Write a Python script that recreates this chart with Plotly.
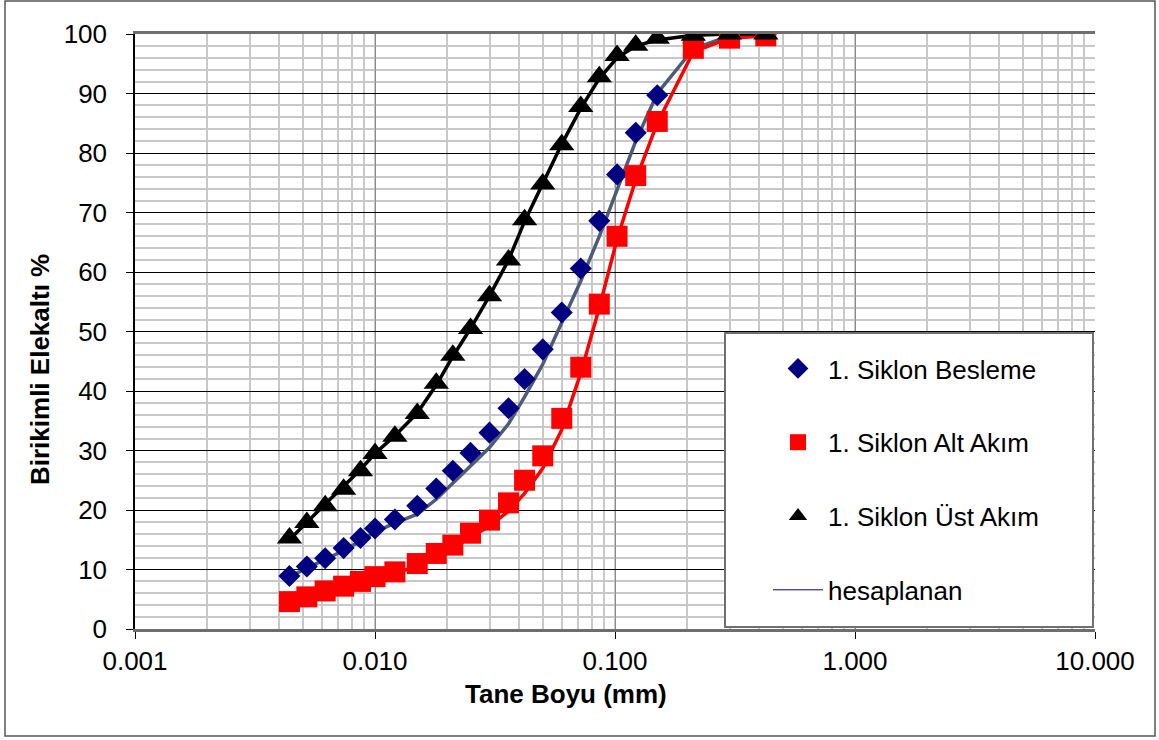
import plotly.graph_objects as go

# Particle size (mm)
size_mm = [0.0044, 0.0052, 0.0062, 0.0074, 0.0087, 0.0100, 0.0121, 0.0150,
           0.0180, 0.0211, 0.0250, 0.0300, 0.0360, 0.0420, 0.0500, 0.0600,
           0.0720, 0.0860, 0.1020, 0.1220, 0.1500, 0.2120, 0.3000, 0.4250]

# Measured cumulative undersize (%)
besleme = [8.9, 10.5, 11.9, 13.6, 15.3, 16.9, 18.4, 20.7, 23.6, 26.6, 29.6, 33.0,
           37.1, 42.0, 47.0, 53.2, 60.6, 68.6, 76.4, 83.4, 89.7, 98.5, 99.8, 100.0]
alt_akim = [4.6, 5.4, 6.4, 7.2, 8.0, 8.8, 9.6, 11.0, 12.7, 14.1, 16.1, 18.3,
            21.2, 25.0, 29.1, 35.4, 44.0, 54.6, 66.0, 76.2, 85.3, 97.6, 99.3, 99.7]
ust_akim = [15.3, 17.9, 20.7, 23.5, 26.6, 29.5, 32.4, 36.2, 41.3, 46.0, 50.5, 56.0,
            62.0, 68.8, 74.8, 81.4, 87.8, 92.8, 96.4, 98.1, 99.3, 99.8, 100.0, 100.0]

# Calculated (hesaplanan) curves (%)
besleme_calc = [8.8, 10.2, 11.6, 13.2, 14.8, 16.3, 17.8, 19.3, 21.8, 24.5, 27.5, 30.5,
                34.5, 39.0, 44.5, 51.5, 58.5, 66.0, 74.0, 82.0, 90.0, 97.5, 99.7, 100.0]
alt_calc = [4.5, 5.3, 6.1, 6.9, 7.7, 8.5, 9.4, 10.5, 12.0, 13.6, 15.3, 17.3,
            19.8, 22.8, 27.0, 33.5, 43.0, 54.0, 65.5, 75.5, 85.0, 97.0, 99.3, 99.7]
ust_calc = [15.0, 18.0, 21.0, 24.0, 26.8, 29.5, 32.5, 36.3, 41.0, 45.8, 50.5, 56.0,
            62.0, 68.5, 75.0, 81.5, 87.5, 92.5, 96.0, 98.0, 99.0, 99.8, 100.0, 100.0]

x_tickvals = [0.001, 0.01, 0.1, 1, 10]
x_ticktext = ["0.001", "0.010", "0.100", "1.000", "10.000"]

FONT = "Liberation Sans, Arial, sans-serif"

fig = go.Figure()

# calculated lines (no legend)
fig.add_trace(go.Scatter(x=size_mm, y=besleme_calc, mode="lines",
                         line=dict(color="#4d5b77", width=3.5), showlegend=False, hoverinfo="skip"))
fig.add_trace(go.Scatter(x=size_mm, y=alt_calc, mode="lines",
                         line=dict(color="#ff0000", width=3.5), showlegend=False, hoverinfo="skip"))
fig.add_trace(go.Scatter(x=size_mm, y=ust_calc, mode="lines",
                         line=dict(color="#000000", width=3.5), showlegend=False, hoverinfo="skip"))

# measured points
fig.add_trace(go.Scatter(x=size_mm, y=besleme, mode="markers", name="1. Siklon Besleme",
                         legendgroup="a",
                         marker=dict(symbol="diamond", size=17, color="#000080")))
fig.add_trace(go.Scatter(x=size_mm, y=alt_akim, mode="markers", name="1. Siklon Alt Akım",
                         legendgroup="b",
                         marker=dict(symbol="square", size=21, color="#ff0000")))
fig.add_trace(go.Scatter(x=size_mm, y=ust_akim, mode="markers", name="1. Siklon Üst Akım",
                         legendgroup="c",
                         marker=dict(symbol="triangle-up", size=22, color="#000000")))
# legend-only entry for calculated curves
fig.add_trace(go.Scatter(x=[None], y=[None], mode="lines", name="hesaplanan",
                         legendgroup="d",
                         line=dict(color="#000080", width=1)))

L, R, T, B = 135, 64, 34, 111
W, H = 1159, 740
pw, ph = W - L - R, H - T - B

def px(xp):
    return (xp - L) / pw

def py(yp):
    return (H - B - yp) / ph

fig.update_layout(
    width=W, height=H,
    margin=dict(l=L, r=R, t=T, b=B),
    paper_bgcolor="white", plot_bgcolor="white",
    font=dict(family=FONT, size=26, color="black"),
    showlegend=True,
    legend=dict(
        x=px(768), y=py(345), xanchor="left", yanchor="top",
        bgcolor="rgba(0,0,0,0)", borderwidth=0,
        font=dict(family=FONT, size=26, color="black"),
        itemwidth=50, tracegroupgap=37, traceorder="grouped",
    ),
    shapes=[
        # legend box
        dict(type="rect", xref="paper", yref="paper",
             x0=px(725), x1=px(1093), y0=py(627), y1=py(333),
             fillcolor="white", line=dict(color="#707070", width=2), layer="above"),
        # outer chart border
        dict(type="rect", xref="paper", yref="paper",
             x0=px(5), x1=px(1155), y0=py(736), y1=py(1),
             line=dict(color="#555555", width=1.5), layer="below"),
    ],
    annotations=[
        dict(text="<b>Tane Boyu (mm)</b>", xref="paper", yref="paper",
             x=px(566), y=py(694), xanchor="center", yanchor="middle", showarrow=False,
             font=dict(family=FONT, size=26, color="black")),
        dict(text="<b>Birikimli Elekaltı %</b>", xref="paper", yref="paper",
             x=px(40), y=py(370), xanchor="center", yanchor="middle", showarrow=False,
             textangle=-90, font=dict(family=FONT, size=26, color="black")),
    ],
)

fig.update_xaxes(
    type="log", range=[-3, 1],
    tickvals=x_tickvals, ticktext=x_ticktext,
    ticks="outside", ticklen=7, tickcolor="black", tickwidth=1,
    showline=True, linecolor="#6e6e6e", linewidth=2.5, mirror=True,
    showgrid=True, gridcolor="#8a8a8a", gridwidth=1,
    minor=dict(dtick="D1", showgrid=True, gridcolor="#c8c8c8", gridwidth=2, ticks=""),
    tickfont=dict(family=FONT, size=26, color="black"),
    zeroline=False,
)
fig.update_yaxes(
    range=[0, 100], dtick=10,
    ticks="outside", ticklen=7, tickcolor="black", tickwidth=1,
    showline=True, linecolor="black", linewidth=1.5,
    showgrid=True, gridcolor="black", gridwidth=1,
    minor=dict(dtick=2, showgrid=True, gridcolor="#c8c8c8", gridwidth=2, ticks=""),
    tickfont=dict(family=FONT, size=26, color="black"),
    ticklabelstandoff=14,
    zeroline=False,
)

fig.write_html("out.html")
